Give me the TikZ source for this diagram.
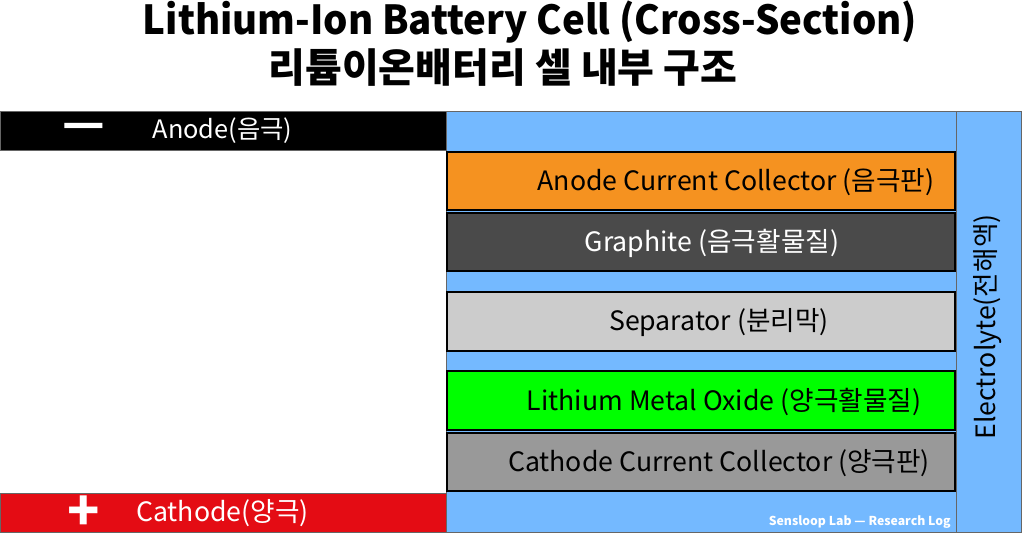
\documentclass[tikz,border=0pt]{standalone}
\usepackage{fontspec}
\setmainfont{Noto Sans CJK KR}
\usetikzlibrary{positioning}
\definecolor{elblue}{RGB}{116,185,255}
\definecolor{accorange}{RGB}{245,146,32}
\definecolor{graphitegray}{RGB}{74,74,74}
\definecolor{sepgray}{RGB}{204,204,204}
\definecolor{oxidegreen}{RGB}{0,255,0}
\definecolor{cccgray}{RGB}{153,153,153}
\definecolor{cathred}{RGB}{228,12,20}
\tikzset{
	layer/.style={draw=black, line width=1.5pt, minimum width=381pt, minimum height=43.9pt, inner sep=0pt, outer sep=0pt},
	lbl/.style={font=\fontsize{20}{22}\selectfont, inner sep=0pt},
	term/.style={draw=black!60, line width=0.75pt, minimum width=334.5pt, minimum height=29.25pt, inner sep=0pt, outer sep=0pt},
	ttl/.style={font=\bfseries\fontsize{30}{34}\selectfont, inner sep=0pt}
}
\begin{document}
\begin{tikzpicture}[x=0.75pt, y=-0.75pt]
          \useasboundingbox (0,0) rectangle (1024,550);
          \node (title1) [ttl] at (530,22) {\scalebox{0.96}[1]{Lithium-Ion Battery Cell (Cross-Section)}};
          \node (title2) [ttl] at (503,68) {리튬이온배터리 셀 내부 구조};
          \node (bath) [fill=elblue, draw=black!60, line width=0.75pt, minimum width=382.5pt, minimum height=315.75pt, inner sep=0pt, outer sep=0pt] at (701,321.5) {};
          \node (elec) [fill=elblue, draw=black!60, line width=0.75pt, minimum width=48.75pt, minimum height=315.75pt, inner sep=0pt, outer sep=0pt] at (988.5,321.5) {};
          \node (acc) [layer, fill=accorange] at (701,181) {};
          \node (graphite) [layer, fill=graphitegray, below=2pt of acc] {};
          \node (sep) [layer, fill=sepgray, below=15.5pt of graphite] {};
          \node (oxide) [layer, fill=oxidegreen, below=15.5pt of sep] {};
          \node (ccc) [layer, fill=cccgray, below=2pt of oxide] {};
          \node (anode) [term, fill=black] at (223,130.5) {};
          \node (cathode) [term, fill=cathred] at (223,512.5) {};
		  \node (acctext) [lbl] at ([xshift=26.25pt, yshift=-1pt]acc.center) {Anode Current Collector (음극판)};
		  \node (graphitetext) [lbl, text=white] at ([xshift=8.25pt, yshift=-1pt]graphite.center) {Graphite (음극활물질)};
		  \node (septext) [lbl] at ([xshift=13.5pt, yshift=-1pt]sep.center) {Separator (분리막)};
		  \node (oxidetext) [lbl] at ([xshift=17.25pt, yshift=-1pt]oxide.center) {Lithium Metal Oxide (양극활물질)};
		  \node (ccctext) [lbl] at ([xshift=13.5pt, yshift=-1pt]ccc.center) {Cathode Current Collector (양극판)};
		  \node (electext) [lbl, rotate=90] at (988,327) {Electrolyte(전해액)};
		  \node (minus) [lbl, text=white, font=\bfseries\fontsize{35}{35}\selectfont] at (83.5,131) {—};
		  \node (anodetext) [lbl, text=white, font=\fontsize{19}{22}\selectfont] at (222.5,131) {Anode(음극)};
		  \node (plus) [lbl, text=white, font=\bfseries\fontsize{40}{40}\selectfont] at (84,513) {+};
		  \node (cathodetext) [lbl, text=white] at (222.5,513) {Cathode(양극)};
		  \node (mark) [text=white, font=\bfseries\fontsize{9.2}{10}\selectfont, inner sep=0pt, anchor=east] at (951,522) {Sensloop Lab — Research Log};
        \end{tikzpicture}
\end{document}
